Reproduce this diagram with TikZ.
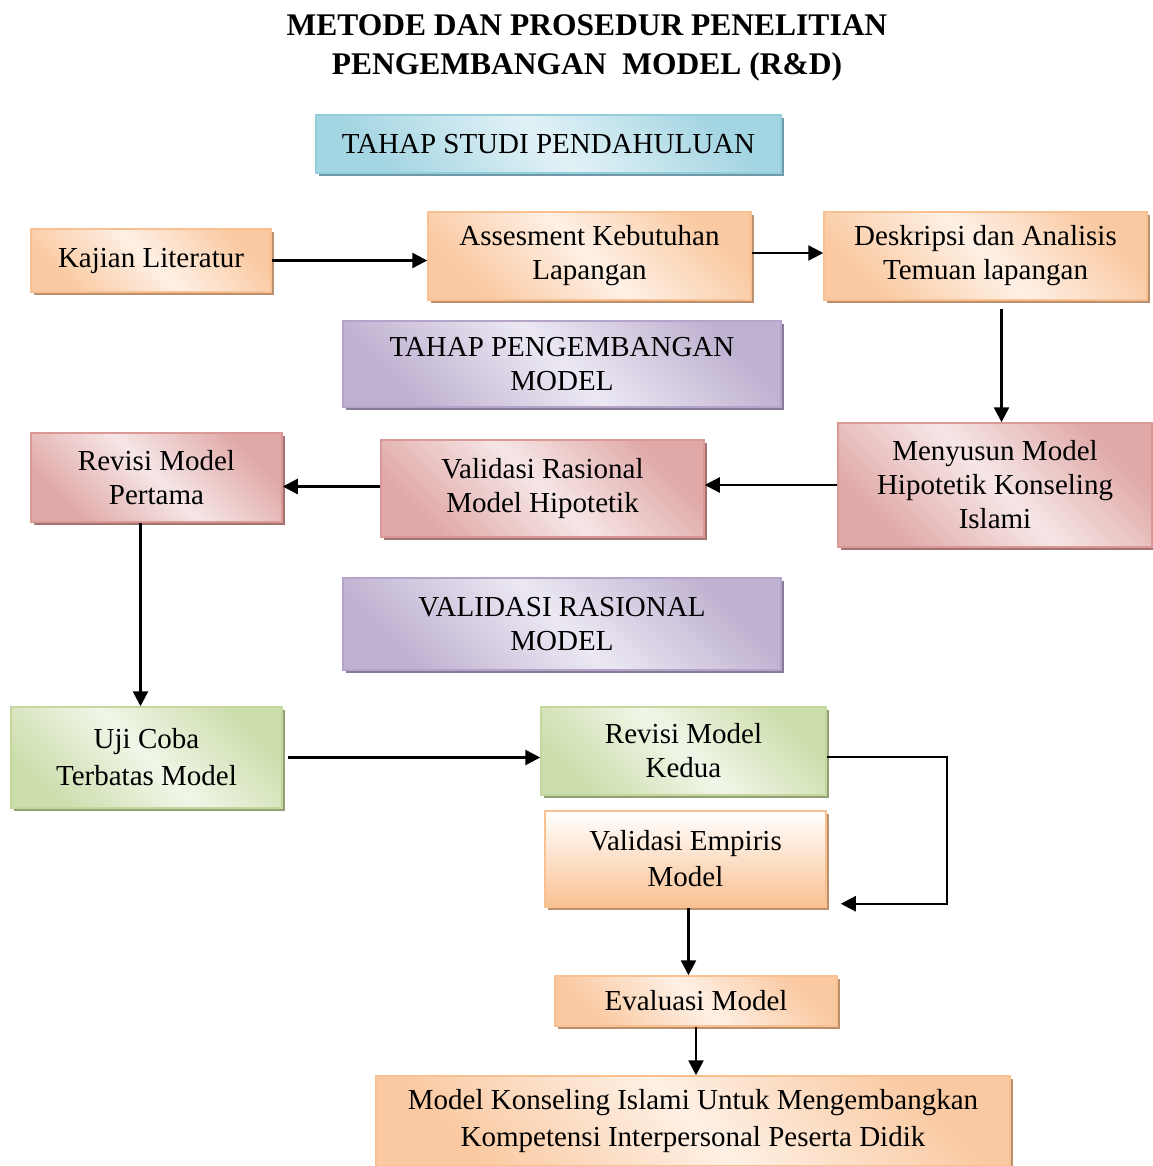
\documentclass[tikz,border=0pt]{standalone}
\usepackage{fontspec}
\setmainfont{Liberation Serif}
\usetikzlibrary{arrows.meta}
\usetikzlibrary{shadows}
\usetikzlibrary{calc}

\definecolor{orangeC}{RGB}{249,192,145}
\definecolor{orangeL}{RGB}{254,240,229}
\definecolor{redC}{RGB}{218,153,151}
\definecolor{redL}{RGB}{246,230,230}
\definecolor{purpleC}{RGB}{180,164,201}
\definecolor{purpleL}{RGB}{236,232,243}
\definecolor{greenC}{RGB}{196,216,158}
\definecolor{greenL}{RGB}{240,246,232}
\definecolor{blueC}{RGB}{148,206,221}
\definecolor{blueL}{RGB}{226,242,247}

\tikzset{
  box/.style={draw=#1, line width=1.5pt, align=center, inner sep=0pt,
    font=\fontsize{29}{34}\selectfont,
    left color=#1!85!white, right color=#1!85!white, middle color=#1L, shading angle=135,
    drop shadow={shadow xshift=3pt, shadow yshift=-3pt, fill=#1!75!black, opacity=1}},
  orangebox/.style={box=orangeC},
  redbox/.style={box=redC},
  purplebox/.style={box=purpleC},
  greenbox/.style={box=greenC},
  bluebox/.style={box=blueC},
  arr/.style={line width=2.5pt, -{Triangle[length=15pt,width=15pt]}},
}
\colorlet{orangeCL}{orangeL}
\colorlet{redCL}{redL}
\colorlet{purpleCL}{purpleL}
\colorlet{greenCL}{greenL}
\colorlet{blueCL}{blueL}

\begin{document}
\begin{tikzpicture}[x=1pt,y=-1pt]
  \useasboundingbox (0,0) rectangle (1152,1166);

  \node[font=\fontsize{31.5}{39}\selectfont\bfseries, align=center] (title) at (587,48)
    {METODE DAN PROSEDUR PENELITIAN\\PENGEMBANGAN\ \ MODEL (R\&D)};

  % studi pendahuluan
  \node[bluebox, minimum width=465, minimum height=58] (stu) at (548.5,144) {TAHAP STUDI PENDAHULUAN};
  \node[orangebox, minimum width=240, minimum height=63] (kaj) at (151,260.5) {Kajian Literatur};
  \node[orangebox, minimum width=323, minimum height=88] (ass) at (589.5,256) {Assesment Kebutuhan\\Lapangan};
  \node[orangebox, minimum width=323, minimum height=88] (des) at (985.5,256) {Deskripsi dan Analisis\\Temuan lapangan};

  % pengembangan model
  \node[purplebox, minimum width=438, minimum height=86] (pgb) at (562,364) {TAHAP PENGEMBANGAN\\MODEL};
  \node[redbox, minimum width=251, minimum height=89] (rv1) at (156.5,477.5) {Revisi Model\\Pertama};
  \node[redbox, minimum width=323, minimum height=97] (vrs) at (542.5,488.5) {Validasi Rasional\\Model Hipotetik};
  \node[redbox, minimum width=314, minimum height=124] (mny) at (995,485) {Menyusun Model\\Hipotetik\ Konseling\\Islami};

  % validasi
  \node[purplebox, minimum width=438, minimum height=92] (vrm) at (562,624) {VALIDASI RASIONAL\\MODEL};
  \node[greenbox, minimum width=271, minimum height=101] (uji) at (146.5,757.5) {Uji Coba\\[3pt]Terbatas Model};
  \node[greenbox, minimum width=285, minimum height=88] (rv2) at (683.5,751) {Revisi Model\\Kedua};
  \node[orangebox, top color=white, bottom color=orangeC, minimum width=281, minimum height=96] (vem) at (685.5,859) {Validasi Empiris\\[2pt]Model};
  \node[orangebox, minimum width=282, minimum height=50] (evl) at (696,1001) {Evaluasi Model};
  \node[orangebox, minimum width=634, minimum height=90] (mki) at (693,1121)
    {Model Konseling\ Islami Untuk Mengembangkan\\[3pt]Kompetensi Interpersonal Peserta Didik};

  % arrows
  \draw[arr] (kaj.east) -- (kaj.east -| ass.west);
  \draw[arr] ([yshift=3pt]ass.east) -- ([yshift=3pt]des.west);
  \draw[arr, shorten <=8pt] ([xshift=16pt]des.south) -- ([xshift=16pt]des.south |- mny.north);
  \draw[arr] (mny.west) -- (mny.west -| vrs.east);
  \draw[arr] ([yshift=2pt]vrs.west) -- ([yshift=2pt]vrs.west -| rv1.east);
  \draw[arr] ([xshift=-16pt]rv1.south) -- ([xshift=-16pt]rv1.south |- uji.north);
  \draw[arr, shorten <=5pt] (uji.east) -- (uji.east -| rv2.west);
  \draw[arr] ([yshift=-6pt]rv2.east) -- ++(120,0) |- ([xshift=14pt,yshift=4pt]vem.south east);
  \draw[arr] ([xshift=3pt]vem.south) -- ([xshift=3pt]vem.south |- evl.north);
  \draw[arr] (evl.south) -- (evl.south |- mki.north);
\end{tikzpicture}
\end{document}
